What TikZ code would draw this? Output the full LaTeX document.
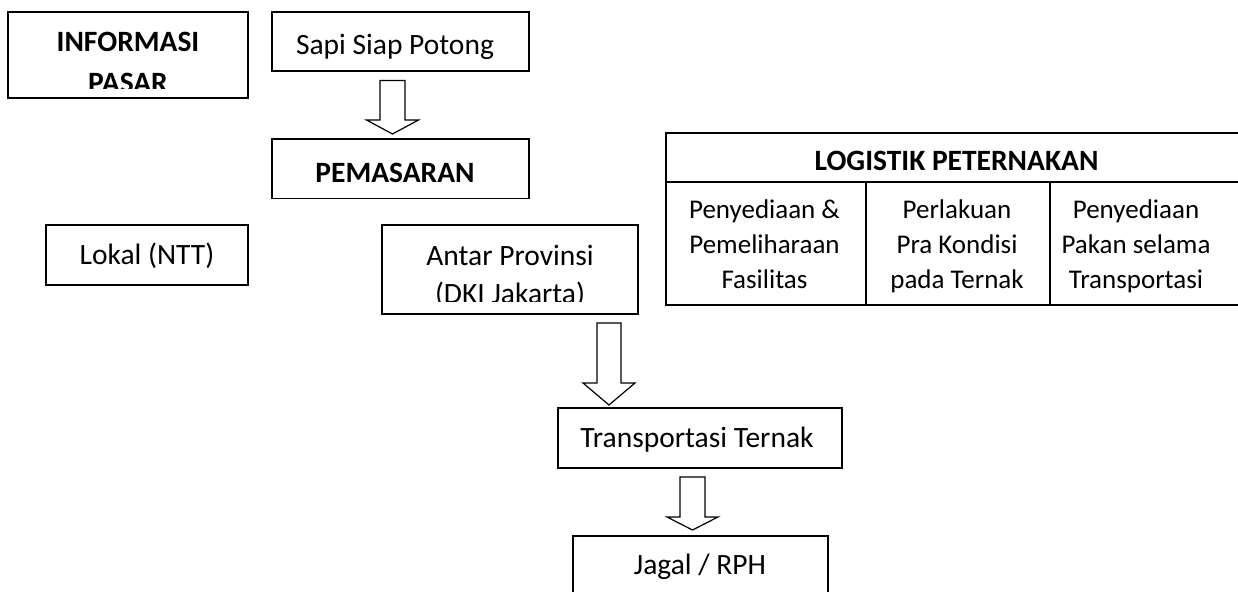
\documentclass[tikz,border=0pt]{standalone}
\usepackage{fontspec}
\setmainfont{Carlito}
% outlined block arrow pointing down: x, top, neck, tip, shaft half width, head half width
\newcommand{\dnarrow}[6]{%
  \draw[blockarrow] ({#1-#5},#2) -- ({#1+#5},#2) -- ({#1+#5},#3) -- ({#1+#6},#3)
    -- (#1,#4) -- ({#1-#6},#3) -- ({#1-#5},#3) -- cycle;}
\begin{document}
\begin{tikzpicture}[x=1pt,y=-1pt,
  box/.style={draw, line width=1.5pt, inner sep=0pt},
  lbl/.style={anchor=base, inner sep=0pt, font=\fontsize{29.5}{34}\selectfont},
  blbl/.style={anchor=base, inner sep=0pt, font=\fontsize{29.5}{34}\selectfont\bfseries},
  cell/.style={anchor=base, inner sep=0pt, font=\fontsize{27}{33}\selectfont},
  blockarrow/.style={draw, line width=1.2pt, fill=white, line join=miter},
  rule/.style={line width=1.5pt}]
\useasboundingbox (0,0) rectangle (1238,591);
\clip (0,0) rectangle (1238,591);

% frames
\node[box, minimum width=240pt, minimum height=86pt] (info) at (128,55) {};
\node[box, minimum width=257pt, minimum height=59pt] (sapi) at (400.5,41.5) {};
\node[box, minimum width=257pt, minimum height=59.5pt] (pemasaran) at (400.5,168.75) {};
\node[box, minimum width=202pt, minimum height=60pt] (lokal) at (147,255) {};
\node[box, minimum width=256pt, minimum height=89pt] (antar) at (510,269.5) {};
\node[box, minimum width=284pt, minimum height=60pt] (transport) at (700,438) {};
\node[box, minimum width=255pt, minimum height=100pt] (jagal) at (700.5,586) {};

% texts (the second lines of two boxes are cut off by the frame's inner margin)
\node[blbl] (infoA) at (128,52) {INFORMASI};
\begin{scope}
  \clip (8,12) rectangle (248,89);
  \node[blbl] (infoB) at (128,93) {PASAR};
\end{scope}
\node[lbl] (sapiT) at (395,55) {Sapi Siap Potong};
\node[blbl] (pemT) at (395,182) {PEMASARAN};
\node[lbl] (lokT) at (147,264) {Lokal (NTT)};
\node[lbl] (antA) at (510,265) {Antar Provinsi};
\begin{scope}
  \clip (382,225) rectangle (638,301.5);
  \node[lbl] (antB) at (510,303.5) {(DKI Jakarta)};
\end{scope}
\node[lbl] (trT) at (697,447) {Transportasi Ternak};
\node[lbl] (jgT) at (700,574) {Jagal / RPH};

% logistics table
\draw[rule] (1250,133) -- (666,133) -- (666,305) -- (1250,305);
\draw[rule] (666,182) -- (1250,182);
\draw[rule] (866,182) -- (866,305);
\draw[rule] (1050,182) -- (1050,305);
\node[blbl] (logT) at (956.5,170) {LOGISTIK PETERNAKAN};
\node[cell] (c1a) at (764.5,218) {Penyediaan \&};
\node[cell] (c1b) at (764.5,253) {Pemeliharaan};
\node[cell] (c1c) at (764.5,288) {Fasilitas};
\node[cell] (c2a) at (957,218) {Perlakuan};
\node[cell] (c2b) at (957,253) {Pra Kondisi};
\node[cell] (c2c) at (957,288) {pada Ternak};
\node[cell] (c3a) at (1136,218) {Penyediaan};
\node[cell] (c3b) at (1136,253) {Pakan selama};
\node[cell] (c3c) at (1136,288) {Transportasi};

% block arrows
\dnarrow{392.5}{80.5}{120}{134}{12.5}{26}
\dnarrow{609}{323}{383}{405}{12}{26}
\dnarrow{692.5}{477}{517}{530}{12.5}{25.5}
\end{tikzpicture}
\end{document}
